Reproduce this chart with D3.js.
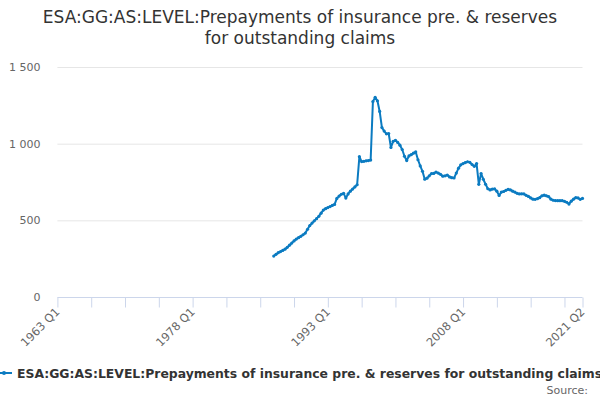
<!DOCTYPE html>
<html>
<head>
<meta charset="utf-8">
<script src="https://cdn.jsdelivr.net/npm/d3@7"></script>
<style>
  body { margin: 0; background: #fff; }
  svg { font-family: "DejaVu Sans", sans-serif; }
</style>
</head>
<body>
<div id="chart"></div>
<script>
const title = ["ESA:GG:AS:LEVEL:Prepayments of insurance pre. & reserves", "for outstanding claims"];
const seriesName = "ESA:GG:AS:LEVEL:Prepayments of insurance pre. & reserves for outstanding claims";

// axis runs over every quarter from 1963 Q1 to 2021 Q2
const years = d3.range(1963, 2022);
const quarters = ["Q1", "Q2", "Q3", "Q4"];
const categories = years.flatMap(y => quarters.map(q => `${y} ${q}`)).slice(0, 234);

// series starts in 1987 Q1
const firstPeriod = "1987 Q1";
const values = [
  267, 278, 289, 296, 304, 312, 324, 338, 352, 366, 378, 387, 396, 406, 417, 442,
  466, 482, 497, 511, 526, 547, 567, 576, 583, 590, 597, 604, 643, 658, 670, 676,
  645, 672, 690, 704, 718, 732, 915, 883, 885, 888, 890, 893, 1275, 1302, 1280, 1210,
  1105, 1082, 1064, 1066, 975, 1015, 1022, 1008, 990, 962, 918, 890, 920, 928, 938, 946,
  895, 855, 820, 768, 775, 790, 805, 806, 815, 808, 800, 788, 790, 795, 783, 778,
  776, 808, 840, 862, 870, 877, 882, 878, 864, 852, 870, 735, 805, 768, 735, 706,
  698, 704, 705, 690, 662, 684, 688, 696, 702, 698, 690, 684, 676, 672, 673, 672,
  663, 656, 646, 638, 637, 641, 648, 660, 664, 660, 654, 638, 631, 629, 628, 628,
  628, 624, 618, 606, 625, 638, 648, 646, 637, 643
];
const yTicks = [0, 500, 1000, 1500];
const xTickEvery = 15;
const xLabelEvery = 60;

const width = 600, height = 400;
const margin = { top: 67, right: 17.5, bottom: 103, left: 57.4 };
const color = "#0b7bc1";

const start = categories.indexOf(firstPeriod);
const data = values.map((v, i) => ({ period: categories[start + i], value: v }));

const x = d3.scalePoint().domain(categories).range([margin.left, width - margin.right]);
const y = d3.scaleLinear().domain([0, 1500]).range([height - margin.bottom, margin.top]);

const svg = d3.select("#chart").append("svg").attr("width", width).attr("height", height);

// title
svg.append("text")
  .attr("x", width / 2)
  .attr("y", 23)
  .attr("text-anchor", "middle")
  .style("font-size", "17px")
  .style("fill", "#333")
  .selectAll("tspan")
  .data(title)
  .enter()
  .append("tspan")
  .attr("x", width / 2)
  .attr("dy", (d, i) => (i ? 21 : 0))
  .text(d => d);

// grid + y labels
const fmt = v => d3.format(",")(v).replace(/,/g, " ");
svg.append("g")
  .selectAll("line")
  .data(yTicks.slice(1))
  .enter()
  .append("line")
  .attr("x1", margin.left)
  .attr("x2", width - margin.right)
  .attr("y1", d => y(d) + 0.5)
  .attr("y2", d => y(d) + 0.5)
  .style("stroke", "#e6e6e6");
svg.append("g")
  .selectAll("text")
  .data(yTicks)
  .enter()
  .append("text")
  .attr("x", margin.left - 17)
  .attr("y", d => y(d) + 4)
  .attr("text-anchor", "end")
  .style("font-size", "11px")
  .style("fill", "#666")
  .text(fmt);

// x axis
const tickIdx = d3.range(0, categories.length, xTickEvery).concat([categories.length - 1]);
const labelIdx = d3.range(0, categories.length, xLabelEvery).concat([categories.length - 1]);
const base = y(0) + 0.5;
const xa = svg.append("g");
xa.append("line")
  .attr("x1", margin.left)
  .attr("x2", width - margin.right)
  .attr("y1", base)
  .attr("y2", base)
  .style("stroke", "#ccd6eb");
xa.selectAll("line.tick")
  .data(tickIdx)
  .enter()
  .append("line")
  .classed("tick", true)
  .attr("x1", i => x(categories[i]) + 0.5)
  .attr("x2", i => x(categories[i]) + 0.5)
  .attr("y1", base)
  .attr("y2", base + 10)
  .style("stroke", "#ccd6eb");
xa.selectAll("text")
  .data(labelIdx)
  .enter()
  .append("text")
  .attr("transform", i => `translate(${x(categories[i]) + 3},${base + 15}) rotate(-45)`)
  .attr("text-anchor", "end")
  .style("font-size", "11.5px")
  .style("fill", "#666")
  .text(i => categories[i]);

// series
const line = d3.line().x(d => x(d.period)).y(d => y(d.value));
svg.append("path")
  .datum(data)
  .attr("d", line)
  .style("fill", "none")
  .style("stroke", color)
  .style("stroke-width", 2)
  .style("stroke-linejoin", "round");
svg.append("g")
  .selectAll("circle")
  .data(data)
  .enter()
  .append("circle")
  .attr("cx", d => x(d.period))
  .attr("cy", d => y(d.value))
  .attr("r", 1.6)
  .style("fill", color);

// legend
const lg = svg.append("g").attr("transform", "translate(0,373)");
lg.append("line").attr("x1", -4).attr("x2", 12).attr("y1", 0).attr("y2", 0)
  .style("stroke", color).style("stroke-width", 2);
lg.append("circle").attr("cx", 4).attr("cy", 0).attr("r", 2).style("fill", color);
lg.append("text")
  .attr("x", 17)
  .attr("y", 5)
  .style("font-size", "12.4px")
  .style("font-weight", "bold")
  .style("fill", "#333")
  .text(seriesName);

svg.append("text")
  .attr("x", 588)
  .attr("y", 394)
  .attr("text-anchor", "end")
  .style("font-size", "11px")
  .style("fill", "#666")
  .text("Source:");
</script>
</body>
</html>
